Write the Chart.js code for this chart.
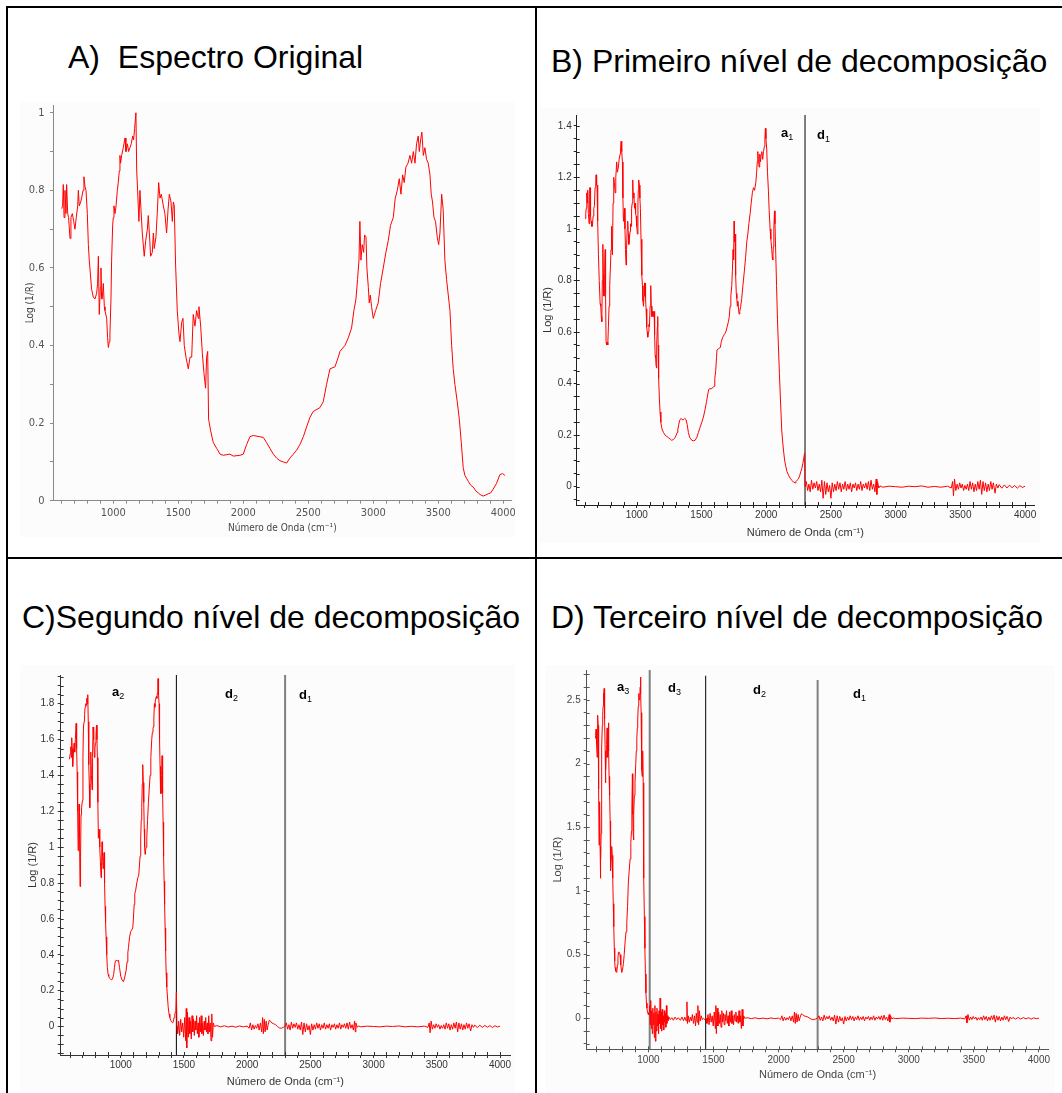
<!DOCTYPE html>
<html><head><meta charset="utf-8">
<script src="https://cdn.jsdelivr.net/npm/chart.js@4.4.1/dist/chart.umd.min.js"></script>
<style>
html,body{margin:0;padding:0;background:#fff;}
body{width:1062px;height:1093px;position:relative;overflow:hidden;font-family:'Liberation Sans',Arial,sans-serif;}
.rule{position:absolute;background:#000;}
.title{position:absolute;font-size:32px;line-height:32px;white-space:pre;color:#000;}
.panel{position:absolute;background:#fcfcfc;}
.panel canvas{display:block;}
.lbl{position:absolute;font-weight:bold;font-size:13px;line-height:13px;color:#000;white-space:nowrap;}
.lbl sub{font-size:9px;vertical-align:baseline;position:relative;top:3px;font-weight:normal;}
</style></head><body>

<div class="rule" style="left:6px;top:6px;width:1056px;height:2px"></div>
<div class="rule" style="left:6px;top:6px;width:2px;height:1087px"></div>
<div class="rule" style="left:535px;top:6px;width:2px;height:1087px"></div>
<div class="rule" style="left:6px;top:557px;width:1056px;height:2px"></div>

<div class="title" style="left:68px;top:41px">A)  Espectro Original</div>
<div class="title" style="left:551px;top:45px">B) Primeiro nível de decomposição</div>
<div class="title" style="left:22px;top:601px">C)Segundo nível de decomposição</div>
<div class="title" style="left:551px;top:601px">D) Terceiro nível de decomposição</div>

<div class="panel" style="left:20px;top:102px;width:495px;height:435px"><canvas id="cA" width="495" height="435"></canvas></div>
<div class="panel" style="left:538px;top:108px;width:502px;height:435px"><canvas id="cB" width="502" height="435"></canvas></div>
<div class="panel" style="left:20px;top:665px;width:495px;height:428px"><canvas id="cC" width="495" height="428"></canvas></div>
<div class="panel" style="left:545px;top:665px;width:510px;height:428px"><canvas id="cD" width="510" height="428"></canvas></div>

<div class="lbl" style="left:781px;top:125.5px">a<sub>1</sub></div>
<div class="lbl" style="left:817px;top:128px">d<sub>1</sub></div>
<div class="lbl" style="left:112px;top:685px">a<sub>2</sub></div>
<div class="lbl" style="left:225px;top:687px">d<sub>2</sub></div>
<div class="lbl" style="left:299px;top:688px">d<sub>1</sub></div>
<div class="lbl" style="left:617px;top:680px">a<sub>3</sub></div>
<div class="lbl" style="left:668px;top:681px">d<sub>3</sub></div>
<div class="lbl" style="left:753px;top:683px">d<sub>2</sub></div>
<div class="lbl" style="left:853px;top:687px">d<sub>1</sub></div>

<script>
// ---------- DATA ----------
// A) original spectrum  [wavenumber, log(1/R)]
const spectrumOriginal = [
[603,0.753],[610,0.76],[615,0.815],[621,0.73],[628,0.80],[636,0.74],[641,0.815],[649,0.74],[656,0.73],[667,0.676],
[674,0.73],[685,0.74],[695,0.72],[705,0.70],[715,0.73],[726,0.76],[731,0.80],[738,0.76],[749,0.77],[756,0.78],
[767,0.80],[774,0.835],[782,0.81],[790,0.80],[800,0.74],[808,0.66],[815,0.62],[821,0.595],[833,0.545],[846,0.525],
[859,0.52],[872,0.535],[879,0.56],[885,0.63],[892,0.48],[900,0.55],[905,0.60],[910,0.52],[915,0.52],[923,0.56],
[931,0.50],[936,0.49],[949,0.47],[956,0.42],[962,0.395],[969,0.41],[974,0.43],[982,0.52],[987,0.62],[995,0.71],
[1000,0.73],[1005,0.76],[1013,0.74],[1021,0.76],[1031,0.80],[1038,0.82],[1046,0.85],[1051,0.89],[1056,0.87],[1064,0.89],
[1077,0.91],[1090,0.935],[1097,0.90],[1108,0.92],[1118,0.90],[1128,0.91],[1138,0.92],[1149,0.94],[1156,0.93],[1164,0.96],
[1174,1.0],[1180,0.85],[1187,0.80],[1197,0.72],[1205,0.80],[1213,0.75],[1223,0.69],[1238,0.63],[1249,0.67],[1262,0.70],
[1269,0.735],[1279,0.68],[1287,0.63],[1300,0.64],[1308,0.69],[1315,0.65],[1328,0.68],[1338,0.74],[1349,0.82],[1359,0.78],
[1369,0.79],[1385,0.76],[1397,0.74],[1410,0.69],[1421,0.75],[1431,0.79],[1444,0.77],[1454,0.72],[1462,0.77],[1469,0.76],
[1479,0.61],[1492,0.49],[1505,0.43],[1513,0.41],[1526,0.46],[1536,0.47],[1546,0.40],[1559,0.37],[1577,0.34],[1590,0.37],
[1603,0.37],[1615,0.48],[1628,0.45],[1641,0.49],[1654,0.47],[1659,0.50],[1672,0.45],[1685,0.38],[1697,0.33],[1710,0.29],
[1718,0.37],[1726,0.385],[1733,0.21],[1749,0.18],[1769,0.15],[1795,0.135],[1821,0.12],[1846,0.117],[1897,0.12],[1923,0.115],
[1974,0.117],[2000,0.12],[2026,0.145],[2051,0.165],[2077,0.168],[2128,0.165],[2154,0.163],[2179,0.15],[2205,0.135],[2231,0.12],
[2256,0.11],[2282,0.103],[2308,0.10],[2333,0.097],[2359,0.11],[2385,0.12],[2410,0.13],[2436,0.145],[2462,0.165],[2487,0.19],
[2513,0.215],[2538,0.23],[2590,0.24],[2615,0.255],[2641,0.30],[2667,0.34],[2705,0.345],[2731,0.37],[2744,0.385],[2782,0.40],
[2808,0.42],[2833,0.445],[2851,0.49],[2867,0.52],[2879,0.57],[2890,0.62],[2897,0.72],[2905,0.62],[2915,0.66],[2926,0.64],
[2933,0.685],[2944,0.68],[2951,0.60],[2962,0.55],[2969,0.51],[2977,0.53],[2987,0.50],[3000,0.47],[3018,0.49],[3038,0.51],
[3056,0.56],[3077,0.60],[3097,0.64],[3115,0.67],[3133,0.71],[3154,0.73],[3169,0.78],[3185,0.80],[3200,0.83],[3213,0.79],
[3226,0.84],[3238,0.82],[3251,0.86],[3267,0.87],[3282,0.89],[3295,0.87],[3308,0.90],[3321,0.87],[3333,0.92],[3346,0.94],
[3354,0.90],[3364,0.93],[3374,0.95],[3385,0.89],[3397,0.91],[3410,0.88],[3423,0.87],[3436,0.84],[3446,0.79],[3456,0.77],
[3467,0.73],[3479,0.72],[3492,0.68],[3503,0.66],[3513,0.69],[3526,0.79],[3538,0.75],[3551,0.62],[3564,0.57],[3577,0.53],
[3590,0.49],[3603,0.40],[3615,0.34],[3628,0.30],[3646,0.255],[3662,0.21],[3677,0.15],[3692,0.085],[3705,0.065],[3731,0.05],
[3749,0.04],[3769,0.035],[3790,0.025],[3808,0.02],[3826,0.015],[3846,0.012],[3867,0.015],[3885,0.018],[3903,0.02],[3923,0.03],
[3949,0.045],[3974,0.067],[3995,0.07],[4013,0.065]
];

// approximation a1 (600-2300)
const approxA1 = [
[601,1.04],[606,1.06],[610,1.08],[614,1.14],[618,1.10],[621,1.15],[626,1.06],[632,1.02],[636,1.16],[639,1.16],
[643,1.05],[647,1.03],[652,1.01],[657,1.01],[663,1.05],[668,1.08],[673,1.09],[678,1.16],[683,1.18],[686,1.21],
[690,1.17],[693,1.17],[698,1.03],[704,0.90],[710,0.80],[717,0.71],[722,0.70],[726,0.66],[730,0.64],[734,0.80],
[738,0.94],[742,0.82],[745,0.74],[748,0.74],[752,0.85],[756,0.92],[759,0.75],[763,0.56],[768,0.55],[772,0.56],
[776,0.55],[781,0.62],[786,0.70],[791,0.78],[797,0.86],[801,0.92],[804,1.01],[808,0.96],[812,0.90],[817,1.10],
[822,1.20],[827,1.18],[833,1.14],[838,1.20],[845,1.26],[850,1.22],[858,1.24],[864,1.27],[871,1.29],[875,1.31],
[879,1.34],[884,1.30],[889,1.26],[893,1.12],[897,1.03],[901,1.05],[905,1.08],[909,1.00],[913,0.92],[917,0.86],
[921,0.92],[926,1.00],[930,1.03],[935,0.98],[939,0.94],[943,0.96],[948,0.99],[952,1.02],[956,1.01],[960,1.08],
[965,1.10],[969,1.19],[973,1.12],[978,1.14],[982,1.08],[987,1.10],[991,1.06],[995,1.05],[1000,1.01],[1005,0.98],
[1009,1.10],[1012,1.15],[1015,1.19],[1020,1.17],[1024,1.12],[1028,1.08],[1033,0.96],[1039,0.82],[1044,0.78],[1048,0.72],
[1052,0.70],[1056,0.74],[1060,0.79],[1064,0.79],[1068,0.73],[1072,0.69],[1077,0.62],[1081,0.60],[1085,0.58],[1090,0.60],
[1094,0.63],[1098,0.62],[1103,0.70],[1108,0.78],[1112,0.70],[1117,0.66],[1121,0.68],[1126,0.66],[1130,0.68],[1134,0.68],
[1138,0.59],[1142,0.51],[1146,0.50],[1149,0.47],[1152,0.46],[1156,0.55],[1159,0.62],[1162,0.66],[1165,0.55],[1168,0.44],
[1170,0.42],[1175,0.34],[1180,0.29],[1186,0.25],[1192,0.23],[1198,0.22],[1207,0.21],[1219,0.20],[1232,0.195],[1245,0.19],
[1258,0.185],[1270,0.18],[1283,0.183],[1296,0.19],[1305,0.20],[1312,0.21],[1317,0.22],[1324,0.24],[1330,0.255],[1335,0.26],
[1342,0.265],[1350,0.26],[1361,0.26],[1371,0.265],[1381,0.26],[1390,0.24],[1399,0.21],[1410,0.19],[1425,0.18],[1438,0.178],
[1451,0.18],[1463,0.19],[1476,0.21],[1489,0.23],[1502,0.25],[1515,0.27],[1528,0.30],[1539,0.33],[1549,0.36],[1555,0.375],
[1561,0.38],[1575,0.38],[1590,0.385],[1597,0.39],[1603,0.42],[1610,0.45],[1616,0.50],[1620,0.53],[1630,0.535],[1646,0.54],
[1652,0.56],[1664,0.58],[1676,0.59],[1688,0.60],[1698,0.62],[1708,0.64],[1715,0.66],[1721,0.70],[1727,0.74],[1734,0.78],
[1739,0.84],[1744,0.92],[1748,0.88],[1752,1.03],[1755,0.95],[1759,0.98],[1762,0.88],[1766,0.82],[1769,0.75],[1773,0.73],
[1777,0.70],[1781,0.72],[1785,0.70],[1790,0.67],[1796,0.68],[1803,0.70],[1811,0.73],[1820,0.78],[1832,0.84],[1841,0.89],
[1850,0.95],[1858,0.98],[1866,1.02],[1876,1.06],[1884,1.10],[1893,1.14],[1902,1.16],[1910,1.15],[1920,1.18],[1926,1.22],
[1931,1.26],[1935,1.30],[1940,1.27],[1945,1.24],[1950,1.29],[1956,1.26],[1961,1.29],[1966,1.30],[1973,1.27],[1979,1.30],
[1986,1.32],[1990,1.35],[1994,1.39],[1998,1.35],[2004,1.31],[2010,1.22],[2017,1.15],[2023,1.07],[2030,1.00],[2036,0.96],
[2043,0.92],[2047,0.89],[2051,0.88],[2055,0.93],[2059,1.00],[2064,1.07],[2068,1.02],[2074,0.90],[2080,0.78],[2087,0.65],
[2094,0.55],[2102,0.44],[2110,0.34],[2120,0.22],[2128,0.17],[2136,0.13],[2143,0.10],[2151,0.08],[2160,0.06],[2172,0.045],
[2185,0.033],[2198,0.025],[2210,0.018],[2223,0.015],[2230,0.02],[2238,0.025],[2249,0.03],[2260,0.045],[2268,0.06],[2275,0.07],
[2283,0.09],[2290,0.11],[2297,0.13]
];

// approximation a2 (600-1440)
const approxA2 = [
[594,1.49],[600,1.52],[605,1.56],[609,1.50],[612,1.61],[616,1.55],[620,1.45],[625,1.52],[631,1.58],[636,1.53],
[641,1.60],[647,1.69],[651,1.55],[655,1.42],[659,1.20],[663,0.98],[667,1.10],[670,1.24],[674,1.05],[678,0.78],
[682,0.95],[686,1.18],[690,1.22],[697,1.26],[701,1.50],[705,1.67],[710,1.70],[714,1.74],[718,1.78],[723,1.80],
[727,1.79],[731,1.83],[735,1.80],[739,1.85],[743,1.70],[747,1.46],[751,1.35],[755,1.22],[759,1.40],[763,1.53],
[768,1.40],[773,1.32],[777,1.50],[781,1.67],[786,1.60],[792,1.50],[796,1.55],[800,1.58],[804,1.62],[808,1.68],
[812,1.60],[815,1.50],[819,1.25],[823,1.05],[828,1.10],[834,1.00],[839,0.92],[844,0.83],[848,0.90],[852,1.03],
[856,0.95],[860,0.88],[864,0.92],[868,0.97],[872,0.80],[876,0.67],[880,0.58],[884,0.50],[889,0.40],[894,0.33],
[900,0.29],[905,0.28],[910,0.27],[918,0.265],[929,0.26],[937,0.27],[944,0.29],[950,0.33],[956,0.36],[963,0.37],
[970,0.37],[976,0.365],[982,0.37],[990,0.33],[1000,0.28],[1010,0.26],[1021,0.25],[1030,0.27],[1042,0.31],[1050,0.36],
[1056,0.41],[1061,0.44],[1070,0.50],[1079,0.53],[1088,0.54],[1095,0.55],[1100,0.60],[1106,0.68],[1111,0.74],[1118,0.76],
[1127,0.80],[1135,0.83],[1142,0.84],[1148,0.90],[1153,0.95],[1158,1.05],[1162,1.15],[1166,1.22],[1170,1.35],[1174,1.46],
[1178,1.36],[1182,1.25],[1186,1.10],[1189,1.00],[1192,0.96],[1196,0.98],[1200,1.00],[1206,1.05],[1212,1.15],[1219,1.25],
[1225,1.32],[1232,1.40],[1238,1.50],[1245,1.60],[1250,1.64],[1255,1.66],[1258,1.67],[1262,1.72],[1266,1.80],[1270,1.78],
[1274,1.82],[1277,1.82],[1282,1.84],[1286,1.83],[1290,1.86],[1293,1.90],[1295,1.94],[1299,1.85],[1303,1.80],[1307,1.60],
[1311,1.45],[1315,1.30],[1319,1.30],[1323,1.40],[1327,1.51],[1331,1.30],[1335,1.14],[1339,0.95],[1343,0.81],[1347,0.68],
[1351,0.55],[1355,0.42],[1359,0.30],[1364,0.22],[1369,0.17],[1375,0.11],[1382,0.07],[1388,0.05],[1395,0.035],[1403,0.025],
[1411,0.02],[1417,0.03],[1422,0.05],[1428,0.07],[1432,0.08],[1436,0.09],[1440,0.19]
];

// approximation a3 (600-1010)
const approxA3 = [
[590,2.20],[594,2.22],[598,2.27],[602,2.15],[606,2.05],[609,2.25],[611,2.38],[614,2.30],[616,2.10],[619,1.80],
[621,1.36],[624,1.55],[626,1.70],[629,1.35],[631,1.10],[634,1.25],[637,1.45],[640,1.80],[642,2.13],[646,2.30],
[649,2.38],[652,2.45],[654,2.55],[657,2.50],[660,2.59],[662,2.50],[665,2.35],[668,2.10],[670,1.85],[673,1.95],
[675,2.05],[679,2.15],[683,2.28],[686,2.15],[688,2.05],[691,2.20],[693,2.32],[696,2.10],[698,1.90],[702,1.75],
[706,1.55],[708,1.35],[711,1.16],[714,1.25],[718,1.35],[722,1.28],[726,1.10],[730,0.90],[734,0.72],[738,0.55],
[741,0.45],[744,0.40],[750,0.37],[757,0.36],[762,0.42],[766,0.48],[770,0.52],[775,0.52],[782,0.50],[788,0.42],
[795,0.36],[801,0.38],[808,0.43],[814,0.50],[821,0.60],[828,0.68],[834,0.75],[840,0.88],[846,1.07],[852,1.15],
[859,1.25],[865,1.38],[870,1.47],[873,1.65],[877,1.92],[880,1.60],[883,1.45],[885,1.40],[889,1.60],[892,1.75],
[897,1.85],[903,2.00],[907,2.10],[911,2.20],[915,2.28],[918,2.35],[922,2.45],[926,2.55],[930,2.50],[934,2.52],
[937,2.60],[939,2.68],[942,2.55],[944,2.40],[947,2.15],[950,1.95],[952,1.90],[955,2.05],[957,2.10],[960,1.85],
[962,1.50],[966,1.10],[969,0.80],[973,0.55],[977,0.35],[981,0.20],[985,0.12],[989,0.08],[993,0.05],[997,0.04],
[1000,0.03],[1005,0.05]
];

// detail d3 (1010-1440)
const detailD3 = [
[1010,0.10],[1014,-0.05],[1018,0.14],[1022,-0.08],[1026,0.06],[1030,-0.12],[1034,0.08],[1038,-0.05],[1042,0.04],[1046,-0.15],
[1050,0.10],[1054,-0.18],[1058,0.05],[1062,-0.10],[1066,0.08],[1070,-0.06],[1074,0.03],[1078,-0.12],[1082,0.06],[1086,-0.04],
[1090,0.16],[1094,-0.08],[1098,0.05],[1102,-0.10],[1106,0.07],[1110,-0.05],[1114,0.02],[1118,-0.09],[1122,0.06],[1126,-0.03],
[1130,0.04],[1134,-0.07],[1138,0.10],[1142,-0.04],[1146,0.02],[1150,-0.02],[1158,0.01],[1168,-0.01],[1180,0.005],[1192,-0.015],
[1205,0.01],[1218,-0.01],[1230,0.005],[1245,-0.015],[1258,0.01],[1270,-0.02],[1280,0.01],[1290,-0.02],[1296,0.13],[1300,-0.04],
[1306,0.02],[1314,-0.03],[1322,0.01],[1330,-0.02],[1338,0.03],[1346,-0.04],[1354,0.02],[1362,-0.06],[1368,0.04],[1374,-0.03],
[1380,0.10],[1386,-0.05],[1392,0.06],[1398,-0.02],[1406,0.02],[1414,-0.01],[1424,0.0],[1434,-0.01],[1440,0.0]
];

// detail d2 (1440-2300)
const detailD2 = [
[1445,0.0],[1450,-0.04],[1458,0.03],[1466,-0.05],[1474,0.04],[1482,-0.03],[1490,0.02],[1498,-0.06],[1506,0.05],[1514,-0.08],
[1518,0.10],[1522,-0.12],[1528,0.08],[1534,-0.06],[1540,0.05],[1546,-0.04],[1552,0.03],[1558,-0.07],[1564,0.06],[1570,-0.03],
[1576,0.04],[1582,-0.05],[1588,0.03],[1594,-0.02],[1600,0.06],[1606,-0.04],[1612,0.02],[1618,-0.06],[1624,0.05],[1630,-0.03],
[1636,0.06],[1642,-0.04],[1648,0.02],[1654,-0.05],[1660,0.03],[1666,-0.02],[1672,0.05],[1678,-0.03],[1684,0.02],[1690,-0.04],
[1696,0.06],[1702,-0.03],[1708,0.02],[1714,-0.08],[1720,0.07],[1726,-0.06],[1732,0.02],[1740,0.0],[1760,0.005],[1790,-0.002],
[1820,0.004],[1850,-0.003],[1880,0.002],[1910,-0.004],[1940,0.003],[1970,-0.002],[2000,0.002],[2015,-0.01],[2025,0.02],[2035,-0.02],
[2045,0.01],[2055,-0.015],[2065,0.005],[2075,-0.01],[2085,0.015],[2095,-0.02],[2105,0.02],[2115,-0.03],[2122,0.05],[2128,-0.04],
[2135,0.04],[2142,-0.03],[2150,0.03],[2158,-0.02],[2166,0.01],[2175,0.035],[2185,0.03],[2195,0.02],[2210,0.015],[2225,0.01],
[2240,0.0],[2255,-0.008],[2270,-0.01],[2285,-0.005],[2298,0.0]
];

// detail d1 (2300-4000)
const detailD1 = [
[2300,0.0],[2310,0.02],[2320,-0.015],[2330,0.01],[2340,-0.02],[2350,0.025],[2360,-0.01],[2370,0.015],[2380,-0.005],[2390,0.02],
[2400,-0.015],[2410,0.01],[2420,-0.02],[2430,0.025],[2440,-0.045],[2450,0.02],[2460,-0.03],[2470,0.015],[2480,-0.02],[2490,0.005],
[2500,-0.045],[2510,0.015],[2520,-0.02],[2530,0.01],[2540,-0.015],[2550,0.02],[2560,-0.01],[2570,0.015],[2580,-0.02],[2590,0.01],
[2600,-0.01],[2610,0.02],[2620,-0.015],[2630,0.01],[2640,-0.01],[2650,0.015],[2660,-0.02],[2670,0.01],[2680,-0.005],[2690,0.015],
[2700,-0.015],[2710,0.01],[2720,-0.01],[2730,0.02],[2740,-0.015],[2750,0.01],[2760,-0.005],[2770,0.015],[2780,-0.01],[2790,0.02],
[2800,-0.015],[2810,0.025],[2820,-0.01],[2830,0.01],[2840,-0.02],[2850,0.03],[2855,-0.03],[2860,0.02],[2870,-0.005],[2880,0.003],
[2900,-0.002],[2950,0.002],[3000,0.0],[3050,-0.002],[3100,0.002],[3150,0.0],[3200,0.003],[3250,-0.002],[3300,0.001],[3350,-0.002],
[3400,0.002],[3430,-0.005],[3440,0.02],[3447,-0.035],[3455,0.03],[3465,-0.015],[3475,0.01],[3485,-0.01],[3495,0.015],[3505,-0.005],
[3515,0.01],[3525,-0.015],[3535,0.005],[3545,-0.01],[3555,0.01],[3565,-0.015],[3575,0.02],[3585,-0.01],[3595,0.015],[3605,-0.02],
[3615,0.01],[3625,-0.015],[3635,0.02],[3645,-0.01],[3655,0.025],[3665,-0.03],[3675,0.02],[3685,-0.015],[3695,0.015],[3705,-0.02],
[3715,0.01],[3725,-0.015],[3735,0.02],[3745,-0.01],[3755,0.015],[3768,-0.025],[3778,0.01],[3790,-0.005],[3800,0.008],[3820,-0.006],
[3840,0.007],[3860,-0.005],[3880,0.006],[3900,-0.004],[3920,0.005],[3940,-0.006],[3960,0.004],[3980,-0.003],[4000,0.002]
];

// decomposition boundaries (cm-1)
const boundaryD1 = 2300;
const boundaryD2 = 1440;
const boundaryD3 = 1010;

// tick labels
const xTickLabels = [1000,1500,2000,2500,3000,3500,4000];
const yTickLabelsA = [0,0.2,0.4,0.6,0.8,1];
const yTickLabelsB = [0,0.2,0.4,0.6,0.8,1,1.2,1.4];
const yTickLabelsC = [0,0.2,0.4,0.6,0.8,1,1.2,1.4,1.6,1.8];
const yTickLabelsD = [0,0.5,1,1.5,2,2.5];

// ---------- RENDERING ----------
function seq(from, to, step){const out=[];const n=Math.round((to-from)/step);for(let i=0;i<=n;i++)out.push(Math.round((from+i*step)*1000)/1000);return out;}
const pts = arr => arr.map(p => ({x:p[0], y:p[1]}));
const RED = '#ff0000';

const innerTicks = {
  id:'innerTicks',
  afterDraw(chart, args, opts){
    if(!opts || !opts.len) return;
    const ctx = chart.ctx, xs = chart.scales.x, ys = chart.scales.y;
    ctx.save(); ctx.strokeStyle = opts.color; ctx.lineWidth = 1; ctx.beginPath();
    xs.ticks.forEach(t => { const px = Math.round(xs.getPixelForValue(t.value)) + 0.5; ctx.moveTo(px, xs.top); ctx.lineTo(px, xs.top - opts.len); });
    ys.ticks.forEach(t => { const py = Math.round(ys.getPixelForValue(t.value)) + 0.5; ctx.moveTo(ys.right, py); ctx.lineTo(ys.right + opts.len, py); });
    ctx.stroke(); ctx.restore();
  }
};

function lineDS(data, color, width){
  return {data: data, borderColor: color, borderWidth: width, pointRadius: 0, tension: 0, fill: false};
}

function makeChart(id, c){
  const near = (v, list) => list.some(m => Math.abs(m - v) < 1e-9);
  return new Chart(document.getElementById(id), {
    type:'line',
    data:{datasets:c.datasets},
    options:{
      responsive:false, maintainAspectRatio:false, animation:false, devicePixelRatio:1, events:[],
      layout:{autoPadding:false, padding:{left:0, top:c.padT, right:c.padR, bottom:0}},
      plugins:{legend:{display:false}, tooltip:{enabled:false}, innerTicks:c.inner},
      scales:{
        x:{type:'linear', min:c.xMin, max:c.xMax,
          afterBuildTicks: s => { s.ticks = c.xTicks.map(v => ({value:v})); },
          afterFit: s => { s.height = c.xH; s.paddingLeft = 0; s.paddingRight = 0; },
          ticks:{autoSkip:false, maxRotation:0, minRotation:0, padding:c.xPad, color:c.tickColor, font:c.tickFont,
            callback: v => near(v, xTickLabels) ? String(v) : ''},
          grid:{drawOnChartArea:false, drawTicks:true, tickLength:3, color:c.axisColor, tickColor:c.axisColor},
          border:{display:true, color:c.axisColor, width:1},
          title:{display:true, text:'Número de Onda (cm⁻¹)', color:c.titleColor, font:c.titleFont, padding:{top:0, bottom:c.xTitlePad}}
        },
        y:{type:'linear', min:c.yMin, max:c.yMax,
          afterBuildTicks: s => { s.ticks = c.yTicks.map(v => ({value:v})); },
          afterFit: s => { s.width = c.yW; s.paddingTop = 0; s.paddingBottom = 0; },
          ticks:{autoSkip:false, padding:c.yPad, color:c.tickColor, font:c.tickFont,
            callback: v => near(v, c.yLabels) ? String(v) : ''},
          grid:{drawOnChartArea:false, drawTicks:true, tickLength:3, color:c.axisColor, tickColor:c.axisColor},
          border:{display:true, color:c.axisColor, width:1},
          title:{display:true, text:'Log (1/R)', color:c.titleColor, font:c.titleFont, padding:{top:c.yTitlePad, bottom:0}}
        }
      }
    },
    plugins:[innerTicks]
  });
}

const narrow = "'Liberation Sans Narrow','DejaVu Sans Condensed','Liberation Sans',Arial";
const regular = "'Liberation Sans',Arial,sans-serif";

// A
makeChart('cA', {
  datasets:[lineDS(pts(spectrumOriginal), RED, 1)],
  xMin:536, xMax:4065, yMin:0, yMax:1.02,
  xTicks:seq(600,4000,100), yTicks:seq(0,1,0.1), yLabels:yTickLabelsA,
  yW:33, xH:36.3, padT:3, padR:3.3, xPad:3, yPad:5.5, xTitlePad:3, yTitlePad:4,
  tickColor:'#555', axisColor:'#8a8a8a', titleColor:'#444',
  tickFont:{family:narrow, size:11}, titleFont:{family:narrow, size:10},
  inner:{len:0}
});

// B
const yMinB = -0.071, yMaxB = 1.442;
makeChart('cB', {
  datasets:[
    lineDS(pts(approxA1.concat(detailD1)), RED, 1),
    lineDS([{x:boundaryD1,y:yMinB},{x:boundaryD1,y:yMaxB}], '#000', 1)
  ],
  xMin:536, xMax:4069, yMin:yMinB, yMax:yMaxB,
  xTicks:seq(600,4000,100), yTicks:seq(-0.05,1.4,0.05), yLabels:yTickLabelsB,
  yW:38.7, xH:38, padT:7, padR:6, xPad:1.5, yPad:2, xTitlePad:3.4, yTitlePad:3.4,
  tickColor:'#333', axisColor:'#222', titleColor:'#333',
  tickFont:{family:regular, size:10}, titleFont:{family:regular, size:11},
  inner:{len:3, color:'#222'}
});

// C
const yMinC = -0.159, yMaxC = 1.96;
makeChart('cC', {
  datasets:[
    lineDS(pts(approxA2.concat(detailD2, detailD1)), RED, 1),
    lineDS([{x:boundaryD2,y:yMinC},{x:boundaryD2,y:yMaxC}], '#000', 1),
    lineDS([{x:boundaryD1,y:yMinC},{x:boundaryD1,y:yMaxC}], '#808080', 2)
  ],
  xMin:525, xMax:4079, yMin:yMinC, yMax:yMaxC,
  xTicks:seq(600,4000,100), yTicks:seq(-0.15,1.95,0.05), yLabels:yTickLabelsC,
  yW:40.7, xH:38, padT:10, padR:5, xPad:1, yPad:3.4, xTitlePad:4.7, yTitlePad:6.7,
  tickColor:'#333', axisColor:'#333', titleColor:'#333',
  tickFont:{family:regular, size:10}, titleFont:{family:regular, size:11},
  inner:{len:3, color:'#333'}
});

// D
const yMinD = -0.243, yMaxD = 2.735;
makeChart('cD', {
  datasets:[
    lineDS(pts(approxA3.concat(detailD3, detailD2, detailD1)), RED, 1),
    lineDS([{x:boundaryD3,y:yMinD},{x:boundaryD3,y:2.736}], '#808080', 2),
    lineDS([{x:boundaryD2,y:yMinD},{x:boundaryD2,y:2.69}], '#000', 1),
    lineDS([{x:boundaryD1,y:yMinD},{x:boundaryD1,y:2.657}], '#808080', 2)
  ],
  xMin:526, xMax:4072, yMin:yMinD, yMax:yMaxD,
  xTicks:seq(600,4000,100), yTicks:seq(-0.2,2.7,0.1), yLabels:yTickLabelsD,
  yW:41.7, xH:43.7, padT:5, padR:6.7, xPad:1.5, yPad:3, xTitlePad:11.4, yTitlePad:6.7,
  tickColor:'#444', axisColor:'#555', titleColor:'#444',
  tickFont:{family:regular, size:10}, titleFont:{family:regular, size:11},
  inner:{len:3, color:'#555'}
});
</script>
</body></html>
